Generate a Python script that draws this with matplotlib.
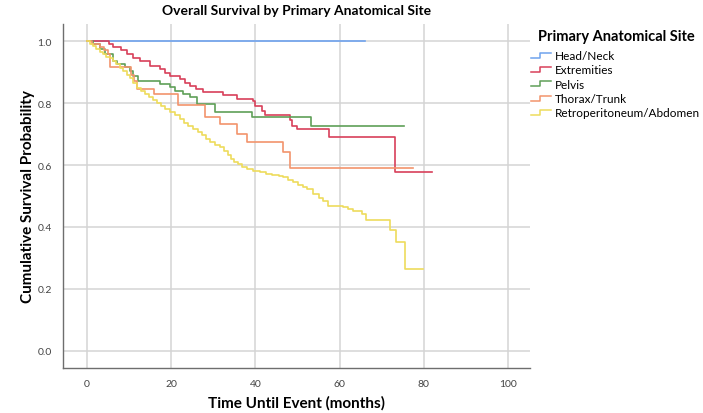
import numpy as np
import matplotlib
matplotlib.use("Agg")
from matplotlib import pyplot as plt
from matplotlib.lines import Line2D
from matplotlib.legend_handler import HandlerBase

# group names and colours
groups = ["Head/Neck", "Extremities", "Pelvis", "Thorax/Trunk", "Retroperitoneum/Abdomen"]
colors = ["#6fa3ee", "#d8405a", "#5f9f58", "#f2946c", "#eedc5c"]

# Kaplan-Meier step points (time in months, survival)
head_t = [0, 66]
head_s = [1.0, 1.0]

ext_t = [0, 5.2, 6.2, 8.0, 9.5, 11.0, 12.6, 15.0, 17.3, 18.5, 19.7, 22.1, 23.3, 24.5, 26.0,
         27.6, 32.3, 35.6, 39.4, 40.0, 41.5, 42.3, 48.2, 48.7, 49.8, 57.5, 73.2, 82.0]
ext_s = [1.0, 0.990, 0.981, 0.970, 0.958, 0.946, 0.935, 0.919, 0.910, 0.897, 0.887, 0.877, 0.866, 0.855, 0.845,
         0.835, 0.826, 0.813, 0.806, 0.790, 0.774, 0.761, 0.745, 0.726, 0.716, 0.690, 0.577, 0.577]

pel_t = [0, 1.5, 3.1, 4.3, 6.2, 7.1, 9.0, 10.2, 10.9, 12.1, 17.3, 19.7, 20.9, 22.8, 24.5,
         26.1, 30.4, 39.2, 53.2, 75.3]
pel_s = [1.0, 0.990, 0.974, 0.958, 0.935, 0.926, 0.916, 0.903, 0.887, 0.871, 0.861, 0.852, 0.839, 0.829, 0.819,
         0.797, 0.771, 0.755, 0.726, 0.726]

tho_t = [0, 1.2, 3.1, 4.0, 5.0, 5.5, 10.5, 11.2, 11.9, 15.9, 21.6, 28.0, 31.6, 35.6, 38.0,
         46.6, 48.2, 77.4]
tho_s = [1.0, 0.990, 0.981, 0.970, 0.958, 0.916, 0.890, 0.871, 0.845, 0.829, 0.794, 0.755, 0.732, 0.700, 0.674,
         0.642, 0.590, 0.590]

ret_t = [0, 0.8, 1.5, 2.2, 3.0, 3.8, 4.6, 5.4, 6.2, 7.0, 7.8, 8.6, 9.4, 10.2, 11.0,
         11.9, 12.8, 13.8, 14.8, 15.7, 16.6, 17.5, 18.5, 19.7, 20.8, 22.1, 23.0, 24.0, 25.2, 26.3,
         27.2, 28.2, 29.3, 30.4, 31.6, 32.5, 33.4, 34.2, 35.0, 35.8, 36.8, 38.0, 39.5, 41.1, 42.5,
         44.0, 45.5, 46.6, 47.8, 48.9, 50.0, 51.2, 52.3, 53.7, 55.0, 56.1, 57.2, 60.8, 62.0, 63.2,
         65.3, 66.3, 72.0, 73.4, 75.5, 79.8]
ret_s = [1.0, 0.992, 0.984, 0.975, 0.966, 0.958, 0.950, 0.944, 0.936, 0.925, 0.914, 0.903, 0.892, 0.880, 0.866,
         0.848, 0.838, 0.830, 0.821, 0.811, 0.800, 0.792, 0.781, 0.772, 0.760, 0.748, 0.737, 0.725, 0.716, 0.706,
         0.697, 0.684, 0.674, 0.666, 0.658, 0.644, 0.632, 0.619, 0.610, 0.603, 0.595, 0.587, 0.581, 0.577, 0.572,
         0.568, 0.564, 0.561, 0.552, 0.545, 0.537, 0.529, 0.523, 0.506, 0.494, 0.484, 0.468, 0.465, 0.458, 0.452,
         0.442, 0.423, 0.390, 0.352, 0.265, 0.265]

x_ticks = [0, 20, 40, 60, 80, 100]
y_ticks = [0.0, 0.2, 0.4, 0.6, 0.8, 1.0]


class StepHandler(HandlerBase):
    # little step shaped line for the legend, like the SPSS output
    def create_artists(self, legend, orig_handle, xdescent, ydescent, width, height, fontsize, trans):
        xs = [0, width * 0.45, width * 0.45, width]
        ys = [height * 0.15, height * 0.15, height * 0.75, height * 0.75]
        ln = Line2D(xs, ys, color=orig_handle.get_color(), lw=1.1, transform=trans)
        return [ln]


plt.rcParams["font.family"] = ["Lato", "DejaVu Sans"]

W, H = 703, 414
fig = plt.figure(figsize=(W / 100, H / 100), dpi=100)
ax = fig.add_axes([63 / W, 45 / H, 467 / W, 344 / H])

series = [(head_t, head_s), (ext_t, ext_s), (pel_t, pel_s), (tho_t, tho_s), (ret_t, ret_s)]
handles = []
for (t, s), name, c in zip(series, groups, colors):
    h, = ax.step(t, s, where="post", color=c, lw=1.2, label=name, zorder=3)
    handles.append(h)

ax.set_xlim(-5.7, 105.2)
ax.set_ylim(-0.055, 1.055)
ax.set_xticks(x_ticks)
ax.set_yticks(y_ticks)
ax.set_yticklabels(["%.1f" % v for v in y_ticks])
ax.grid(True, color="#d4d4d4", lw=1.1)
ax.set_axisbelow(True)
ax.tick_params(length=0, labelsize=7.5, colors="#444444", pad=8)

for side in ["top", "right"]:
    ax.spines[side].set_visible(False)
for side in ["left", "bottom"]:
    ax.spines[side].set_color("#6e6e6e")
    ax.spines[side].set_linewidth(1.0)

ax.set_title("Overall Survival by Primary Anatomical Site", fontsize=10, fontweight="bold", pad=7)
ax.set_xlabel("Time Until Event (months)", fontsize=11, fontweight="bold", labelpad=5)
ax.set_ylabel("Cumulative Survival Probability", fontsize=11, fontweight="bold", labelpad=2)

# legend title drawn on its own so the gap under it matches
fig.text(538 / W, 1 - 37 / H, "Primary Anatomical Site", fontsize=10.5, fontweight="bold",
         ha="left", va="center")
leg = fig.legend(handles=handles, labels=groups,
                 handler_map={Line2D: StepHandler()},
                 loc="upper left", bbox_to_anchor=(531 / W, 1 - 51 / H), frameon=False,
                 fontsize=8.5, handlelength=1.7, handletextpad=0.3, labelspacing=0.28,
                 borderpad=0, borderaxespad=0)

fig.savefig("out.png", dpi=100)
